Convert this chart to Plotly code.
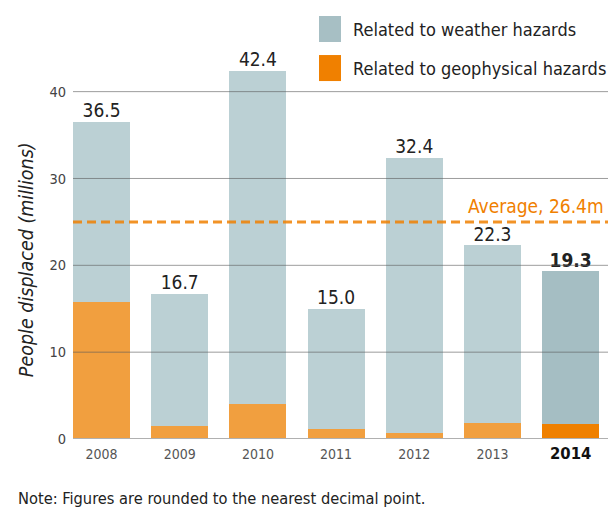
import plotly.graph_objects as go

years = ['2008', '2009', '2010', '2011', '2012', '2013', '2014']
totals = [36.5, 16.7, 42.4, 15.0, 32.4, 22.3, 19.3]
geophysical = [15.8, 1.5, 4.0, 1.1, 0.7, 1.8, 1.7]
average_value = 25.0
average_label = 'Average, 26.4m'
y_ticks = [0, 10, 20, 30, 40]

weather = [round(t - g, 1) for t, g in zip(totals, geophysical)]
xs = list(range(len(years)))

FONT = 'DejaVu Sans Condensed, Roboto, sans-serif'

# the page body has an 8px margin, so work in page pixels and shift
OFF = 8
W_PX, H_PX = 616 - OFF, 509 - OFF
L, R, T, B = 73 - OFF, 616 - OFF, 10 - OFF, 438.7 - OFF


def px(x):
    return (x - OFF - L) / (R - L)


def py(y):
    return (B - (y - OFF)) / (B - T)


fig = go.Figure()

fig.add_trace(go.Bar(
    x=xs, y=geophysical, name='Related to geophysical hazards',
    marker=dict(color=['#f19f3f'] * 6 + ['#ef8000'], line=dict(width=0)),
    width=0.73, showlegend=False, hoverinfo='skip'))

fig.add_trace(go.Bar(
    x=xs, y=weather, name='Related to weather hazards',
    marker=dict(color=['#bbd0d4'] * 6 + ['#a5bec3'], line=dict(width=0)),
    width=0.73, showlegend=False, hoverinfo='skip'))

labels = ['%.1f' % t for t in totals]
labels[-1] = '<b>' + labels[-1] + '</b>'
fig.add_trace(go.Scatter(
    x=xs, y=totals, mode='text', text=labels, textposition='top center',
    textfont=dict(family=FONT, size=19, color='#222'),
    showlegend=False, hoverinfo='skip', cliponaxis=False))

shapes = []
# gridlines drawn above bars
for v in y_ticks[1:]:
    shapes.append(dict(type='line', xref='paper', yref='y', x0=0, x1=1, y0=v, y1=v,
                       line=dict(color='rgba(90,90,90,0.6)', width=1), layer='above'))
shapes.append(dict(type='line', xref='paper', yref='y', x0=0, x1=1, y0=0, y1=0,
                   line=dict(color='#b0b0b0', width=2), layer='above'))
# average line
shapes.append(dict(type='line', xref='paper', yref='y', x0=0, x1=1,
                   y0=average_value, y1=average_value,
                   line=dict(color='rgba(240,128,0,0.85)', width=3, dash='9px,5px'),
                   layer='above'))
# legend swatches
shapes.append(dict(type='rect', xref='paper', yref='paper',
                   x0=px(319), x1=px(341), y0=py(42), y1=py(16),
                   fillcolor='#a7bfc4', line=dict(width=0)))
shapes.append(dict(type='rect', xref='paper', yref='paper',
                   x0=px(319), x1=px(341), y0=py(81), y1=py(55),
                   fillcolor='#f08000', line=dict(width=0)))

annotations = [
    dict(x=px(351), y=py(29), xref='paper', yref='paper', xanchor='left', yanchor='middle',
         text='Related to weather hazards', showarrow=False,
         font=dict(family=FONT, size=18, color='#222')),
    dict(x=px(351), y=py(68), xref='paper', yref='paper', xanchor='left', yanchor='middle',
         text='Related to geophysical hazards', showarrow=False,
         font=dict(family=FONT, size=18, color='#222')),
    dict(x=px(606), y=average_value, xref='paper', yref='y', xanchor='right', yanchor='bottom',
         yshift=3, text=average_label, showarrow=False,
         font=dict(family=FONT, size=19, color='#f08000')),
    dict(x=px(26), y=py(260), xref='paper', yref='paper', xanchor='center', yanchor='middle',
         text='<i>People displaced (millions)</i>', textangle=-90, showarrow=False,
         font=dict(family=FONT, size=19.5, color='#222')),
    dict(x=px(16), y=py(498), xref='paper', yref='paper', xanchor='left', yanchor='middle',
         text='Note: Figures are rounded to the nearest decimal point.', showarrow=False,
         font=dict(family=FONT, size=16.3, color='#222')),
]

ticktext = years[:-1] + ['<b><span style="font-size:16.5px;color:#111">2014</span></b>']

fig.update_layout(
    width=W_PX, height=H_PX,
    margin=dict(l=L, r=W_PX - R, t=T, b=H_PX - B, pad=0),
    barmode='stack',
    plot_bgcolor='white', paper_bgcolor='white',
    font=dict(family=FONT, color='#444'),
    shapes=shapes, annotations=annotations,
    xaxis=dict(range=[-0.365, 6.58], tickvals=xs, ticktext=ticktext,
               showgrid=False, zeroline=False, showline=False, ticks='',
               ticklabelstandoff=5,
               tickfont=dict(family=FONT, size=14, color='#555')),
    yaxis=dict(range=[0, 49.4], tickvals=y_ticks, showgrid=False, zeroline=False,
               showline=False, ticks='', ticklabelstandoff=6,
               tickfont=dict(family=FONT, size=14.5, color='#444')),
)

fig.write_html('out.html')
